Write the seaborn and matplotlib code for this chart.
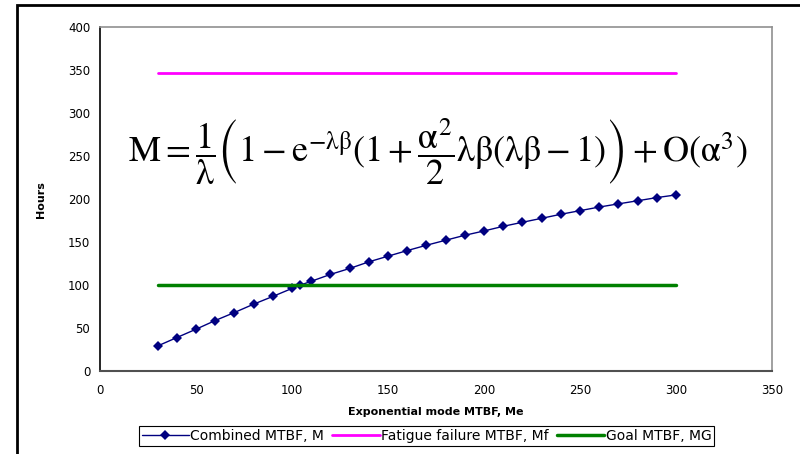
import numpy as np
import pandas as pd
import matplotlib
matplotlib.use("Agg")
import matplotlib.pyplot as plt
import seaborn as sns
from matplotlib.patches import Rectangle

# ----------------------------------------------------------
# DATA
# ----------------------------------------------------------
me = [30, 40, 50, 60, 70, 80, 90, 100, 104, 110, 120, 130, 140, 150, 160,
      170, 180, 190, 200, 210, 220, 230, 240, 250, 260, 270, 280, 290, 300]
m_combined = [29.5, 39.3, 49.0, 59.1, 68.4, 78.1, 87.1, 96.4, 100.0, 104.7,
              112.7, 119.6, 127.3, 133.9, 140.4, 146.6, 152.4, 158.2, 163.2,
              168.6, 173.3, 177.9, 182.6, 186.8, 191.0, 194.7, 198.3, 202.0, 205.1]
me_span = [30, 300]
m_fatigue = [347, 347]
m_goal = [100, 100]

df_m = pd.DataFrame({"Me": me, "M": m_combined})
df_f = pd.DataFrame({"Me": me_span, "M": m_fatigue})
df_g = pd.DataFrame({"Me": me_span, "M": m_goal})

# ----------------------------------------------------------
# STYLE
# ----------------------------------------------------------
sns.set_style("white")
plt.rcParams["font.family"] = ["DejaVu Sans"]
plt.rcParams["mathtext.fontset"] = "stix"
plt.rcParams["text.color"] = "black"
plt.rcParams["axes.labelcolor"] = "black"
plt.rcParams["xtick.color"] = "black"
plt.rcParams["ytick.color"] = "black"

fig = plt.figure(figsize=(8, 4.54), dpi=100)
ax = fig.add_axes([0.125, 0.182, 0.84, 0.758])

sns.lineplot(data=df_m, x="Me", y="M", ax=ax, color="#000080", lw=1,
             marker="D", markersize=5.5, markeredgewidth=0,
             label="Combined MTBF, M")
sns.lineplot(data=df_f, x="Me", y="M", ax=ax, color="#FF00FF", lw=2,
             label="Fatigue failure MTBF, Mf")
sns.lineplot(data=df_g, x="Me", y="M", ax=ax, color="#008000", lw=2.5,
             label="Goal MTBF, MG")

ax.set_xlim(0, 350)
ax.set_ylim(0, 400)
ax.set_xticks(np.arange(0, 351, 50))
ax.set_yticks(np.arange(0, 401, 50))
ax.tick_params(axis="both", direction="out", length=4, width=1,
               labelsize=8.5, color="black", labelcolor="black", pad=3)
ax.tick_params(axis="x", pad=5)
ax.set_xlabel("Exponential mode MTBF, Me", fontsize=8, fontweight="bold",
              labelpad=7, color="black")
ax.set_ylabel("Hours", fontsize=8, fontweight="bold", labelpad=16,
              color="black")

for side in ["top", "right"]:
    ax.spines[side].set_visible(True)
    ax.spines[side].set_color("#909090")
    ax.spines[side].set_linewidth(1.2)
ax.spines["left"].set_color("black")
ax.spines["bottom"].set_color("#505050")
ax.spines["left"].set_linewidth(1.2)
ax.spines["bottom"].set_linewidth(1.5)

# formula (upright greek like the original)
formula = (r"$\mathrm{M}=\dfrac{1}{\mathrm{\lambda}}\left(1-\mathrm{e}^{-\mathrm{\lambda\beta}}"
           r"(1+\dfrac{\mathrm{\alpha}^{2}}{2}\mathrm{\lambda\beta}(\mathrm{\lambda\beta}-1)\right)"
           r"+\mathrm{O}(\mathrm{\alpha}^{3})$")
ax.text(176, 255, formula, fontsize=26, ha="center", va="center",
        color="black")

# legend
ax.get_legend().remove()
handles, labels = ax.get_legend_handles_labels()
leg = fig.legend(handles, labels, loc="center", bbox_to_anchor=(0.533, 0.04),
                 ncol=3, fontsize=10, handlelength=3.4, handletextpad=0.1,
                 columnspacing=0.6, borderpad=0.2, fancybox=False,
                 edgecolor="black", framealpha=1)
leg.get_frame().set_linewidth(0.8)
for t in leg.get_texts():
    t.set_color("black")

# outer chart frame (cut off at right and bottom)
fig.patches.append(Rectangle((17 / 800, -0.2), 1.2, 0.2 + (1 - 5 / 454),
                             transform=fig.transFigure, fill=False,
                             edgecolor="black", lw=2, zorder=10))

fig.savefig("out.png", dpi=100)
plt.close(fig)
